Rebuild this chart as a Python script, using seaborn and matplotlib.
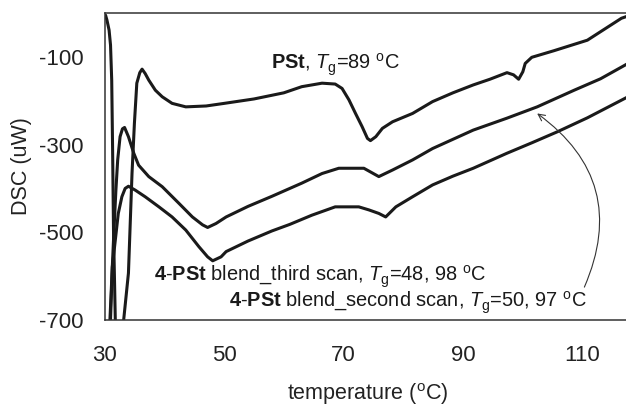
import matplotlib
matplotlib.use("Agg")
import matplotlib.pyplot as plt
import pandas as pd
import seaborn as sns

# PSt trace (temperature in oC, DSC in uW)
pstTemp = [30.17, 30.4, 30.76, 31.0, 31.2, 31.35, 31.5, 31.8, 32.3, 32.8, 33.2, 34.0, 34.3, 34.6, 35.0,
           35.4, 35.9, 36.28, 36.8, 37.4, 38.5, 39.65, 41.3, 43.6, 47.0, 50.05, 55.0, 60.0, 63.0, 66.4,
           68.6, 69.75, 70.9, 72.0, 73.1, 74.0, 74.5, 75.4, 76.5, 78.2, 81.55, 84.9, 88.3, 91.7, 94.5,
           97.35, 98.45, 99.3, 100.0, 100.4, 101.5, 105.2, 110.8, 116.5, 118.0]
pstDsc = [-5, -16, -39, -73, -153, -312, -495, -700, -820, -800, -700, -593, -479, -365, -251,
          -160, -136, -128, -138, -153, -176, -191, -206, -214, -212, -206, -196, -182, -168, -160,
          -162, -172, -198, -229, -259, -286, -291, -282, -263, -248, -229, -202, -182, -164, -151,
          -136, -141, -151, -134, -115, -101, -86, -62, -12, -5]

# 4-PSt blend, third scan
thirdTemp = [30.4, 30.9, 31.5, 31.9, 32.2, 32.6, 33.0, 33.35, 34.0, 34.9, 35.7, 37.4, 39.65, 42.45,
             44.7, 46.4, 47.25, 48.65, 50.35, 54.0, 58.0, 63.0, 66.4, 69.2, 73.4, 75.9, 78.2, 81.55,
             84.9, 88.3, 91.7, 97.3, 102.4, 108.6, 113.0, 118.0]
thirdDsc = [-820, -700, -518, -404, -335, -282, -264, -261, -282, -320, -347, -373, -396, -434,
            -465, -483, -489, -480, -465, -441, -418, -388, -366, -354, -354, -373, -358, -335,
            -309, -288, -267, -240, -214, -176, -150, -112]

# 4-PSt blend, second scan
secondTemp = [30.7, 31.3, 31.8, 32.3, 32.9, 33.45, 34.0, 35.15, 36.8, 39.1, 41.3, 43.6, 45.8, 47.25,
              48.1, 49.5, 50.35, 54.0, 58.0, 61.0, 64.7, 68.6, 72.55, 74.25, 75.9, 77.05, 78.75,
              81.55, 84.9, 88.3, 91.7, 97.3, 101.5, 105.75, 110.8, 117.6, 118.0]
secondDsc = [-820, -579, -518, -457, -419, -400, -395, -404, -419, -442, -465, -495, -533, -556,
             -565, -556, -544, -520, -497, -482, -461, -442, -442, -449, -457, -465, -442,
             -419, -392, -372, -354, -320, -296, -271, -239, -191, -187]

scanNames = ["PSt", "third scan", "second scan"]

xTicks = [30, 50, 70, 90, 110]
yTicks = [-700, -500, -300, -100]

pstLabel = r"$\mathbf{PSt}$, $T_{\mathrm{g}}$=89 $^{\mathrm{o}}$C"
thirdLabel = r"$\mathbf{4}$-$\mathbf{PSt}$ blend_third scan, $T_{\mathrm{g}}$=48, 98 $^{\mathrm{o}}$C"
secondLabel = r"$\mathbf{4}$-$\mathbf{PSt}$ blend_second scan, $T_{\mathrm{g}}$=50, 97 $^{\mathrm{o}}$C"


def buildFrame() -> pd.DataFrame :
    frames = []
    for scanName, temps, values in zip(scanNames,
                                       [pstTemp, thirdTemp, secondTemp],
                                       [pstDsc, thirdDsc, secondDsc]) :
        frames.append(pd.DataFrame({"temperature" : temps, "dsc" : values, "scan" : scanName}))
    return pd.concat(frames, ignore_index = True)


def main() :
    sns.set_theme(style = "white")
    plt.rcParams["font.family"] = ["Liberation Sans", "DejaVu Sans"]
    plt.rcParams["axes.unicode_minus"] = False
    plt.rcParams["mathtext.fontset"] = "custom"
    plt.rcParams["mathtext.rm"] = "Liberation Sans"
    plt.rcParams["mathtext.it"] = "Liberation Sans:italic"
    plt.rcParams["mathtext.bf"] = "Liberation Sans:bold"

    dataFrame = buildFrame()

    fig = plt.figure(figsize = (6.26, 4.09), dpi = 100)
    ax = fig.add_axes([0.167, 0.2176, 0.84, 0.7506])

    sns.lineplot(
        data = dataFrame, x = "temperature", y = "dsc", hue = "scan",
        palette = ["#1a1a1a"] * 3, estimator = None, sort = False,
        linewidth = 2.2, legend = False, ax = ax
    )

    ax.set_xlim(30, 118)
    ax.set_ylim(-700, 0)
    ax.set_xticks(xTicks)
    ax.set_yticks(yTicks)
    ax.tick_params(axis = "x", pad = 18)
    ax.tick_params(axis = "y", pad = 15)
    ax.tick_params(direction = "in", length = 4, width = 0.6, color = "#999999",
                   labelsize = 16, labelcolor = "#222222")

    for side in ["left", "bottom", "top"] :
        ax.spines[side].set_color("#333333")
        ax.spines[side].set_linewidth(1.1)
    ax.spines["right"].set_visible(False)

    ax.set_xlabel(r"temperature ($^{\mathrm{o}}$C)", fontsize = 15.5, color = "#222222", labelpad = 11)
    ax.set_ylabel("DSC (uW)", fontsize = 15.5, color = "#222222", labelpad = 5)

    ax.text(57.9, -119, pstLabel, fontsize = 14.4, va = "center", ha = "left", color = "#1a1a1a")
    ax.text(38.2, -602, thirdLabel, fontsize = 14.4, va = "center", ha = "left", color = "#1a1a1a")
    ax.text(50.9, -661, secondLabel, fontsize = 14.4, va = "center", ha = "left", color = "#1a1a1a")

    ax.annotate(
        "", xy = (102.4, -229), xytext = (110.3, -625),
        arrowprops = dict(arrowstyle = "->", connectionstyle = "arc3,rad=0.4",
                          lw = 0.8, color = "#333333", shrinkA = 0, shrinkB = 0)
    )

    fig.savefig("out.png", dpi = 100)


if __name__ == "__main__" :
    main()
